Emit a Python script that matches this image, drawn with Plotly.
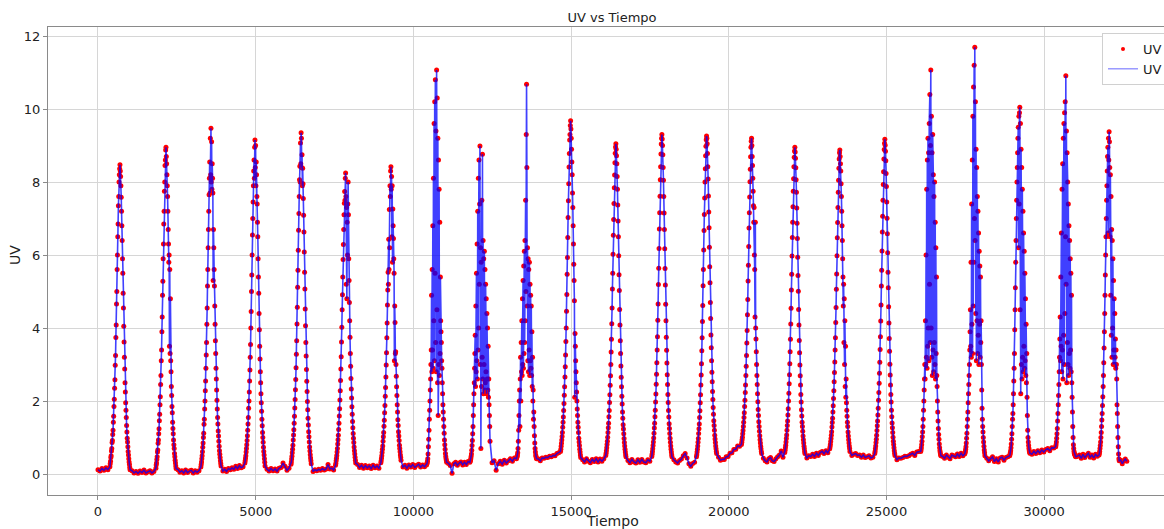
import numpy as np
import plotly.graph_objects as go

# ---- data ----
pico_t = [697, 2156, 3582, 4977, 6440, 7851, 9288, 10736, 12110, 13588, 14985, 16420,
          17879, 19295, 20722, 22095, 23521, 24948, 26405, 27800, 29227, 30686, 32059]
desfase = list(range(-320, 330, 10))  # minutes around each daily peak
t_inicio, t_fin = 0, 32620

dia_uv = [
 [0.2,0.28,0.35,0.45,0.5,0.63,0.7,0.86,0.92,1.08,1.2,1.42,1.58,1.85,2.05,2.35,2.58,2.98,3.25,3.74,4.08,4.66,5.0,5.6,6.0,6.5,6.85,7.35,7.6,8.0,8.2,8.36,
  8.47,
  8.3,8.15,7.9,7.58,7.2,6.8,6.4,5.9,5.5,4.95,4.55,4.05,3.62,3.2,2.88,2.5,2.25,1.95,1.75,1.55,1.33,1.15,0.98,0.88,0.75,0.62,0.52,0.42,0.33,0.26,0.18,0.12],
 [0.16,0.25,0.3,0.4,0.47,0.6,0.66,0.84,0.93,1.1,1.24,1.46,1.64,1.9,2.12,2.45,2.7,3.1,3.4,3.9,4.3,4.9,5.28,5.9,6.3,6.85,7.2,7.75,8.0,8.45,8.6,8.88,
  8.95,
  8.7,8.5,8.2,7.9,7.6,7.2,6.7,6.3,5.8,6.0,3.5,5.6,3.3,4.8,3.1,2.8,2.4,2.15,1.85,1.68,1.42,1.25,1.1,0.93,0.8,0.7,0.56,0.47,0.38,0.3,0.22,0.15],
 [0.19,0.26,0.33,0.42,0.5,0.61,0.73,0.85,1.0,1.12,1.36,1.5,1.78,2.0,2.28,2.55,2.9,3.26,3.6,4.1,4.55,5.15,5.6,6.2,6.7,7.2,7.65,8.1,8.55,7.7,9.2,8.2,
  9.47,
  8.0,9.1,7.8,8.5,8.1,7.7,5.3,6.7,6.2,5.6,5.15,4.6,4.1,3.65,3.3,2.9,2.6,2.3,2.02,1.78,1.55,1.37,1.18,1.04,0.9,0.76,0.64,0.54,0.45,0.36,0.29,0.22],
 [0.3,0.36,0.43,0.5,0.6,0.7,0.8,0.92,1.05,1.2,1.37,1.55,1.8,2.0,2.25,2.55,2.85,3.2,3.55,4.0,4.45,5.0,5.45,6.0,6.55,7.0,7.45,7.9,8.3,8.6,8.1,8.95,
  9.15,
  8.4,9.0,7.9,8.55,8.2,7.6,7.4,6.9,6.5,5.9,5.4,4.95,4.4,3.95,3.5,3.15,2.8,2.5,2.2,1.95,1.72,1.5,1.32,1.14,1.0,0.87,0.73,0.62,0.52,0.42,0.32,0.22],
 [0.27,0.33,0.41,0.49,0.58,0.68,0.79,0.93,1.07,1.21,1.39,1.58,1.81,2.04,2.31,2.59,2.91,3.28,3.65,4.11,4.57,5.12,5.58,6.13,6.68,7.14,7.6,8.06,8.43,8.0,9.07,8.5,
  9.35,
  9.2,8.4,8.75,7.9,8.38,7.95,7.55,7.09,6.63,6.08,5.53,5.07,4.52,4.06,3.6,3.23,2.86,2.54,2.26,1.99,1.76,1.53,1.34,1.16,1.02,0.88,0.74,0.63,0.53,0.44,0.36,0.28],
 [0.24,0.29,0.36,0.43,0.51,0.6,0.7,0.82,0.94,1.06,1.22,1.39,1.59,1.79,2.03,2.28,2.56,2.88,3.21,3.62,4.02,4.5,4.91,5.4,5.88,6.29,6.7,7.1,7.42,7.74,7.5,8.1,
  8.25,
  7.6,5.2,7.3,4.8,6.9,6.0,7.4,8.0,7.1,5.9,5.3,4.7,4.2,3.75,3.3,2.95,2.62,2.33,2.08,1.84,1.64,1.44,1.27,1.11,0.98,0.86,0.74,0.64,0.55,0.46,0.38,0.3],
 [0.31,0.36,0.43,0.5,0.59,0.68,0.77,0.9,1.02,1.14,1.31,1.47,1.68,1.88,2.13,2.37,2.66,2.99,3.32,3.73,4.14,4.63,5.04,5.53,5.2,6.43,5.6,7.25,6.2,7.9,7.6,8.3,
  8.42,
  7.8,8.15,6.5,7.9,5.8,7.26,6.8,6.45,5.9,5.5,3.1,4.6,4.15,3.3,3.35,3.0,2.68,2.39,2.15,1.9,1.7,1.49,1.33,1.16,1.04,0.92,0.79,0.7,0.61,0.52,0.45,0.38],
 [0.25,0.28,0.3,0.35,0.42,0.55,0.75,0.95,1.2,1.5,1.75,2.0,2.3,2.6,3.0,3.4,4.9,2.8,5.6,3.4,6.8,2.9,8.1,4.2,9.6,3.1,10.2,5.5,10.8,3.6,9.4,2.8,
  11.07,
  4.5,10.3,2.5,9.2,1.6,8.6,3.0,7.8,2.7,6.9,3.3,5.4,4.2,3.9,3.6,3.1,2.9,2.5,2.2,1.9,1.7,1.5,1.3,1.12,0.93,0.8,0.68,0.56,0.48,0.42,0.37,0.32],
 [0.32,0.35,0.38,0.42,0.48,0.55,0.65,0.78,0.92,1.1,1.3,1.6,1.9,2.2,2.5,2.9,3.3,3.8,2.4,4.6,2.8,5.5,3.1,6.3,2.6,7.2,3.4,8.1,4.0,8.6,5.2,7.4,
  8.99,
  3.0,6.2,0.7,5.8,2.4,7.5,3.2,8.76,2.6,6.4,2.2,5.9,3.0,6.1,2.3,5.6,2.5,5.2,2.8,4.8,2.2,4.4,2.6,4.0,2.3,3.5,2.1,2.6,1.9,1.6,1.3,0.9],
 [0.42,0.45,0.48,0.52,0.58,0.7,0.9,1.2,1.6,2.0,2.3,1.3,2.6,3.2,2.0,3.6,2.8,4.2,2.7,4.8,3.0,5.3,2.9,5.7,3.3,6.1,3.6,6.4,4.2,7.5,5.0,9.3,
  10.68,
  8.4,4.6,6.2,3.1,5.9,2.8,5.6,3.4,5.8,2.7,5.2,3.1,4.9,2.9,4.6,2.7,3.9,2.4,3.2,2.0,2.3,1.5,1.7,1.3,1.05,0.85,0.7,0.6,0.52,0.48,0.44,0.42],
 [0.62,0.68,0.76,0.84,0.93,1.03,1.14,1.28,1.42,1.56,1.74,1.93,2.16,2.39,2.66,2.94,3.26,3.63,4.0,4.46,4.92,5.47,5.93,6.48,7.03,7.49,7.95,8.41,8.78,9.15,9.3,9.55,
  9.68,
  9.45,9.2,8.9,8.55,8.2,7.7,7.3,6.8,6.3,5.75,5.3,4.75,2.1,3.85,3.5,3.1,2.8,2.5,2.25,2.0,1.78,1.6,1.42,1.28,1.14,0.98,0.88,0.78,0.68,0.6,0.52,0.45],
 [0.51,0.57,0.64,0.72,0.81,0.9,1.01,1.14,1.27,1.39,1.57,1.74,1.96,2.17,2.43,2.69,3.0,3.34,3.69,4.12,4.55,5.07,5.5,6.02,6.54,6.97,7.41,7.84,8.19,8.53,8.79,8.96,
  9.05,
  8.9,8.72,8.5,8.15,7.8,7.37,6.93,6.5,5.98,5.46,5.03,4.51,4.08,3.65,3.3,2.96,2.65,2.39,2.13,1.92,1.7,1.53,1.35,1.23,1.1,0.97,0.86,0.77,0.68,0.6,0.53,0.47],
 [0.48,0.54,0.61,0.69,0.78,0.88,0.99,1.12,1.26,1.39,1.57,1.75,1.97,2.19,2.46,2.73,3.05,3.4,3.76,4.21,4.66,5.19,5.64,6.18,6.71,7.16,7.61,8.06,8.42,8.77,9.04,9.2,
  9.3,
  9.18,9.0,8.75,8.4,8.05,7.6,7.15,6.7,6.17,5.63,5.18,4.65,4.2,3.75,3.39,3.04,2.72,2.45,2.18,1.96,1.74,1.56,1.38,1.25,1.11,0.98,0.87,0.77,0.68,0.6,0.53,0.47],
 [0.47,0.53,0.6,0.68,0.77,0.87,0.97,1.11,1.24,1.37,1.55,1.73,1.95,2.17,2.44,2.71,3.02,3.38,3.73,4.18,4.62,5.16,5.6,6.14,6.67,7.11,7.56,8.0,8.36,8.72,8.98,9.16,
  9.26,
  9.2,9.05,8.78,8.42,8.08,7.62,7.18,6.75,6.21,5.68,5.24,4.7,4.26,3.81,3.46,3.1,2.79,2.53,2.26,2.04,1.82,1.64,1.46,1.33,1.2,1.06,0.96,0.86,0.77,0.69,0.62,0.56],
 [0.81,0.87,0.94,1.01,1.1,1.19,1.3,1.42,1.55,1.68,1.85,2.02,2.23,2.44,2.7,2.95,3.25,3.59,3.93,4.36,4.78,5.29,5.72,6.23,6.74,7.16,7.59,8.01,8.35,8.69,8.95,9.12,
  9.2,
  9.0,8.7,8.45,8.1,7.75,7.35,6.9,7.3,6.0,5.6,4.3,6.9,4.0,3.7,3.35,3.0,2.7,2.45,2.2,1.98,1.77,1.6,1.43,1.3,1.17,1.05,0.94,0.85,0.76,0.69,0.62,0.56],
 [0.59,0.65,0.72,0.79,0.88,0.97,1.07,1.2,1.33,1.45,1.62,1.79,2.0,2.21,2.47,2.72,3.02,3.35,3.69,4.11,4.54,5.04,5.47,5.97,6.48,6.9,7.32,7.75,8.09,8.42,8.68,8.85,
  8.95,
  8.82,8.65,8.39,8.06,7.72,7.29,6.87,6.45,5.94,5.44,5.01,4.51,4.08,3.66,3.32,2.99,2.69,2.44,2.18,1.97,1.76,1.59,1.42,1.3,1.17,1.04,0.94,0.85,0.76,0.69,0.62,0.56],
 [0.69,0.75,0.81,0.89,0.97,1.06,1.16,1.29,1.41,1.53,1.7,1.87,2.07,2.28,2.53,2.78,3.07,3.4,3.73,4.15,4.56,5.06,5.48,5.98,6.47,6.89,7.3,7.72,8.05,8.38,8.63,8.8,
  8.88,
  8.7,8.5,8.3,7.95,7.6,7.2,6.8,6.4,5.9,5.4,4.6,5.2,3.6,4.8,3.0,4.2,2.4,3.5,2.1,2.6,1.95,1.75,1.58,1.42,1.3,1.15,1.04,0.94,0.85,0.77,0.7,0.62],
 [0.56,0.62,0.69,0.77,0.86,0.95,1.06,1.19,1.32,1.45,1.62,1.8,2.02,2.23,2.49,2.76,3.06,3.41,3.76,4.19,4.63,5.15,5.58,6.11,6.63,7.06,7.5,7.93,8.28,8.63,8.89,9.06,
  9.17,
  9.01,8.84,8.58,8.23,7.88,7.45,7.01,6.58,6.06,5.53,5.1,4.58,4.14,3.71,3.36,3.01,2.71,2.44,2.18,1.97,1.75,1.57,1.4,1.27,1.14,1.01,0.9,0.81,0.72,0.64,0.57,0.51],
 [0.62,0.66,0.72,0.8,0.9,1.02,1.15,1.3,1.5,1.75,2.0,2.3,2.6,3.0,2.6,4.2,3.0,6.0,3.2,7.8,2.9,8.6,3.5,9.2,4.0,8.8,3.1,9.6,5.2,10.4,3.6,9.0,
  11.07,
  4.0,9.8,3.2,8.8,2.7,9.3,3.4,8.2,2.8,7.6,3.6,8.0,3.0,6.9,2.6,6.2,3.3,5.4,2.7,2.4,2.0,1.7,1.45,1.25,1.08,0.95,0.82,0.72,0.64,0.58,0.53,0.5],
 [0.55,0.58,0.62,0.68,0.75,0.85,0.98,1.12,1.3,1.5,1.7,1.95,2.2,2.45,2.7,3.0,3.4,3.9,4.5,3.5,5.8,3.2,7.4,4.1,8.6,3.3,9.8,4.6,10.6,5.8,11.2,7.0,
  11.69,
  6.4,10.2,4.4,8.9,3.1,8.4,4.2,7.6,3.3,7.2,3.8,6.6,3.0,6.1,4.1,5.7,3.2,5.4,3.6,4.2,3.0,2.3,1.8,1.5,1.3,1.15,1.0,0.88,0.76,0.66,0.58,0.5],
 [0.5,0.54,0.58,0.64,0.72,0.82,0.95,1.1,1.3,1.5,1.66,1.9,2.2,2.55,2.9,3.3,3.95,4.5,5.1,5.8,6.4,7.0,7.5,8.0,8.4,8.8,9.2,9.5,6.2,9.8,7.4,9.9,
  10.05,
  4.5,9.6,2.2,8.9,3.0,8.4,2.6,7.8,3.2,7.2,2.8,6.6,3.5,6.1,2.9,5.5,3.1,4.8,2.7,4.1,2.5,3.3,2.1,1.6,1.2,1.0,0.88,0.78,0.7,0.64,0.6,0.57],
 [0.75,0.8,0.88,0.98,1.1,1.25,1.45,1.66,1.9,2.15,2.45,2.8,3.2,3.7,4.3,3.1,5.4,3.5,6.6,2.8,7.8,3.4,8.5,2.6,9.2,3.8,9.6,3.0,9.9,4.4,10.2,6.5,
  10.91,
  5.2,9.4,2.5,8.8,3.6,8.0,3.0,7.4,2.7,6.8,3.3,6.4,2.9,5.9,3.4,5.5,2.8,4.9,2.5,2.1,1.7,1.3,1.0,0.8,0.7,0.62,0.57,0.54,0.52,0.5,0.48,0.47],
 [0.52,0.56,0.62,0.7,0.78,0.88,1.0,1.14,1.3,1.48,1.66,1.88,2.12,2.4,2.7,3.05,3.45,3.9,4.4,4.9,5.45,6.0,6.5,7.0,7.5,7.9,8.3,8.7,8.95,6.6,9.2,8.6,
  9.38,
  9.1,8.4,6.5,8.2,4.9,7.6,3.8,6.7,3.2,6.4,4.0,5.9,3.0,5.3,3.4,4.8,3.0,4.4,3.2,3.7,2.9,3.4,3.0,2.6,1.9,1.66,1.3,1.0,0.75,0.55,0.42,0.36],
]

noche_uv = [
 [0.12,0.08,0.15,0.1,0.17,0.12],
 [0.09,0.03,0.07,0.02,0.08,0.04,0.11,0.03,0.06,0.09,0.03,0.07],
 [0.12,0.05,0.09,0.03,0.11,0.04,0.08,0.1,0.03,0.09,0.05,0.09],
 [0.08,0.13,0.07,0.15,0.12,0.17,0.13,0.21,0.15,0.23,0.17,0.2],
 [0.13,0.08,0.15,0.09,0.14,0.08,0.16,0.18,0.3,0.21,0.1,0.16],
 [0.07,0.12,0.09,0.13,0.1,0.15,0.11,0.14,0.26,0.14,0.16,0.11],
 [0.26,0.18,0.24,0.16,0.23,0.17,0.22,0.15,0.24,0.17,0.22,0.16],
 [0.19,0.24,0.16,0.25,0.19,0.26,0.18,0.24,0.27,0.19,0.25,0.2],
 [0.29,0.23,0.02,0.28,0.32,0.24,0.3,0.33,0.25,0.32,0.26,0.34],
 [0.31,0.36,0.1,0.28,0.35,0.27,0.38,0.3,0.36,0.42,0.35,0.44],
 [0.41,0.36,0.44,0.43,0.46,0.45,0.49,0.47,0.51,0.5,0.56,0.58],
 [0.39,0.33,0.42,0.35,0.31,0.4,0.34,0.42,0.33,0.41,0.35,0.42],
 [0.37,0.31,0.4,0.33,0.3,0.39,0.32,0.4,0.33,0.31,0.39,0.35],
 [0.39,0.33,0.3,0.37,0.41,0.5,0.56,0.44,0.28,0.21,0.29,0.32],
 [0.46,0.38,0.4,0.4,0.47,0.48,0.57,0.58,0.67,0.68,0.77,0.76],
 [0.43,0.36,0.33,0.42,0.45,0.36,0.34,0.42,0.47,0.52,0.63,0.46],
 [0.44,0.5,0.48,0.54,0.48,0.57,0.51,0.59,0.62,0.56,0.64,0.58],
 [0.51,0.54,0.56,0.51,0.52,0.46,0.52,0.45,0.47,0.5,0.44,0.46],
 [0.39,0.44,0.43,0.45,0.49,0.48,0.5,0.54,0.57,0.51,0.6,0.62],
 [0.48,0.43,0.52,0.46,0.42,0.52,0.5,0.47,0.55,0.48,0.57,0.5],
 [0.43,0.36,0.42,0.47,0.34,0.42,0.33,0.44,0.46,0.38,0.45,0.47],
 [0.54,0.62,0.56,0.64,0.58,0.66,0.6,0.67,0.7,0.64,0.72,0.71],
 [0.49,0.52,0.43,0.54,0.45,0.52,0.57,0.46,0.52,0.44,0.54,0.49],
 [0.38,0.28,0.36,0.41,0.35],
]

x_ticks = [0, 5000, 10000, 15000, 20000, 25000, 30000]
y_ticks = [0, 2, 4, 6, 8, 10, 12]

for i, d in enumerate(dia_uv):
    assert len(d) == len(desfase), (i, len(d))

# ---- assemble the series ----
tiempo, uv = [], []
n_dias = len(pico_t)
for k in range(n_dias + 1):
    a = t_inicio if k == 0 else pico_t[k - 1] + desfase[-1]
    b = t_fin if k == n_dias else pico_t[k] + desfase[0]
    vals = noche_uv[k]
    n = len(vals)
    if k == 0:
        ts = np.linspace(a, b, n + 1)[:-1]
    elif k == n_dias:
        ts = np.linspace(a, b, n + 1)[1:]
    else:
        ts = np.linspace(a, b, n + 2)[1:-1]
    tiempo += list(ts)
    uv += vals
    if k < n_dias:
        tiempo += [pico_t[k] + d for d in desfase]
        uv += dia_uv[k]

# ---- figure ----
W, H = 1164, 529
L, R, T, B = 48, 0, 27, 34
pw, ph = W - L - R, H - T - B
font = "DejaVu Sans"
txt = "#222222"

fig = go.Figure()
fig.add_trace(go.Scatter(x=tiempo, y=uv, mode="markers", name="UV", showlegend=False,
                         marker=dict(color="red", size=5, line=dict(width=0))))
fig.add_trace(go.Scatter(x=tiempo, y=uv, mode="lines", name="UV", showlegend=False,
                         line=dict(color="rgba(0,0,255,0.75)", width=1.6)))
# legend entries (styled like the reference legend keys)
fig.add_trace(go.Scatter(x=[None], y=[None], mode="markers", name="UV",
                         marker=dict(color="red", size=4, line=dict(width=0))))
fig.add_trace(go.Scatter(x=[None], y=[None], mode="lines", name="UV",
                         line=dict(color="rgba(0,0,255,0.6)", width=1)))

axis_common = dict(showgrid=True, gridcolor="#d6d6d6", gridwidth=1.2, zeroline=False,
                   showline=True, linecolor="#8a8a8a", linewidth=1.2, mirror=True,
                   ticks="outside", ticklen=4, tickcolor="#8a8a8a", tickwidth=1,
                   tickfont=dict(family=font, size=13, color=txt))

fig.update_layout(
    width=W, height=H,
    margin=dict(l=L, r=R, t=T, b=B, autoexpand=False),
    paper_bgcolor="white", plot_bgcolor="white",
    font=dict(family=font, size=13, color=txt),
    title=dict(text="UV vs Tiempo", x=(612 - L) / pw, xref="paper", xanchor="center",
               y=1 - 17 / H, yref="container", yanchor="middle",
               font=dict(family=font, size=13, color=txt)),
    xaxis=dict(range=[-1585, 33799], tickvals=x_ticks, ticktext=[str(v) for v in x_ticks],
               **axis_common),
    yaxis=dict(range=[-0.575, 12.247], tickvals=y_ticks, ticktext=[str(v) for v in y_ticks],
               **axis_common),
    legend=dict(x=(1102 - L) / pw, y=(H - B - 33) / ph, xanchor="left", yanchor="top",
                bgcolor="white", bordercolor="#d0d0d0", borderwidth=1,
                font=dict(family=font, size=13, color=txt), itemwidth=30),
    annotations=[
        dict(text="Tiempo", x=(612 - L) / pw, y=-(521 - (H - B)) / ph, xref="paper", yref="paper",
             showarrow=False, xanchor="center", yanchor="middle",
             font=dict(family=font, size=14, color=txt)),
        dict(text="UV", x=(15 - L) / pw, y=(H - B - 255) / ph, xref="paper", yref="paper",
             showarrow=False, xanchor="center", yanchor="middle", textangle=-90,
             font=dict(family=font, size=14, color=txt)),
    ],
    showlegend=True,
)

fig.write_html("out.html", config={"displayModeBar": False},
               post_script="document.body.style.margin='0';document.body.style.overflow='hidden';")
